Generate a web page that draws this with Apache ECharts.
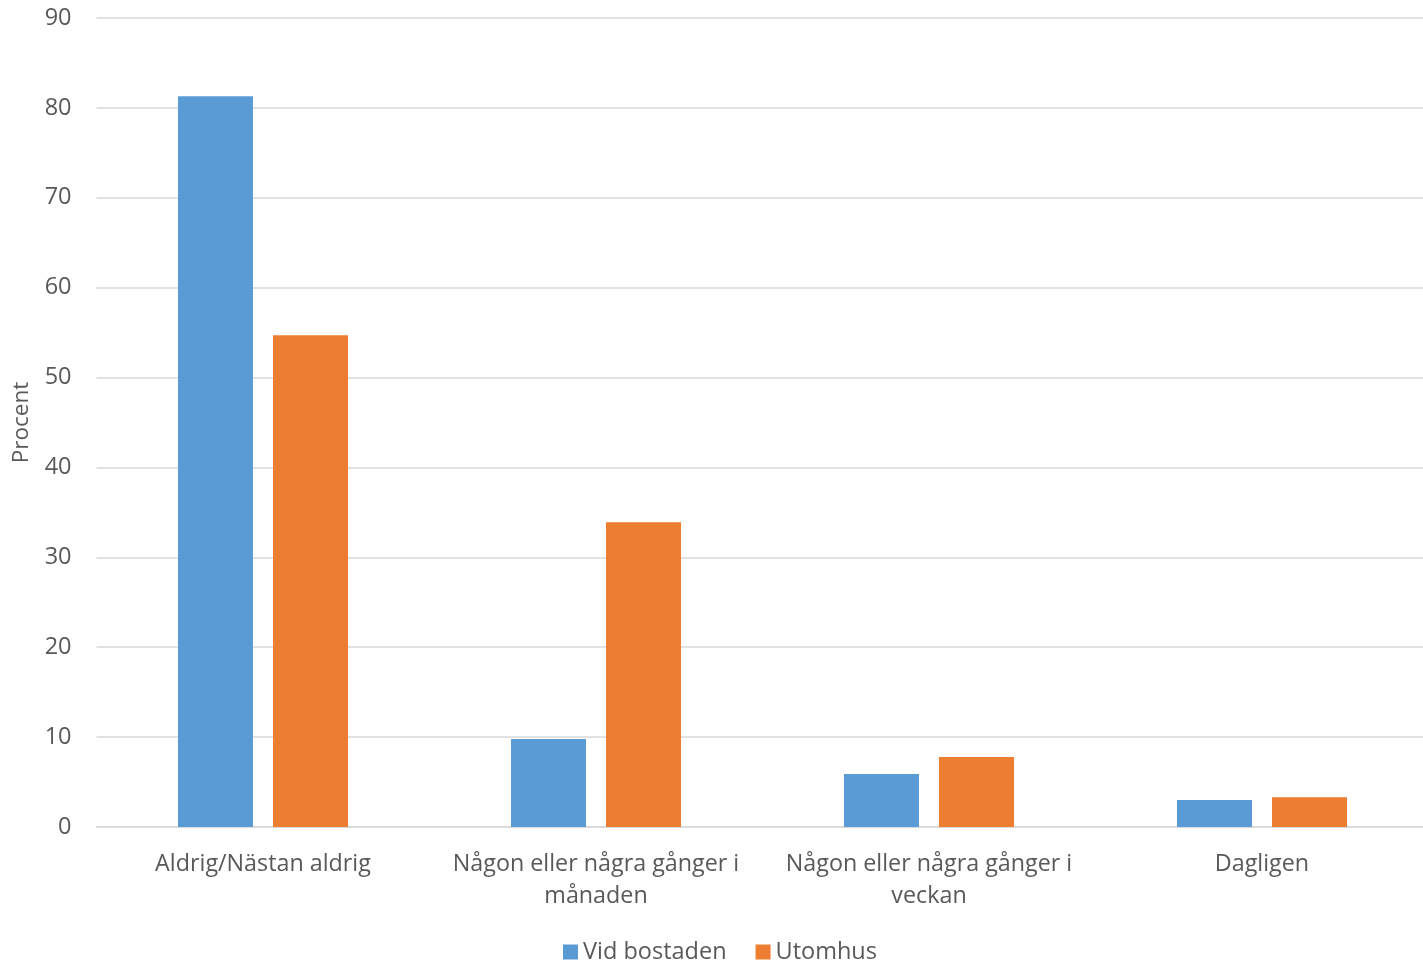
<!DOCTYPE html>
<html><head><meta charset="utf-8">
<script src="https://cdn.jsdelivr.net/npm/echarts@6/dist/echarts.min.js"></script>
<style>html,body{margin:0;padding:0;background:#fff}#c{width:1423px;height:962px}</style>
</head><body><div id="c"></div>
<script>
const categories = ['Aldrig/Nästan aldrig', 'Någon eller några gånger i\nmånaden', 'Någon eller några gånger i\nveckan', 'Dagligen'];
const vidBostaden = [81.3, 9.8, 5.9, 3.0];
const utomhus = [54.7, 33.9, 7.8, 3.3];
const seriesNames = ['Vid bostaden', 'Utomhus'];
const yTicks = {min: 0, max: 90, interval: 10};

const font = '"Open Sans", "Noto Sans", sans-serif';
const chart = echarts.init(document.getElementById('c'));
chart.setOption({
  animation: false,
  textStyle: {fontFamily: font},
  grid: {left: 96.5, width: 1332, top: 18, bottom: 135, containLabel: false, outerBoundsMode: 'none'},
  legend: {
    top: 935, left: 558, itemWidth: 15, itemHeight: 15, itemGap: 29,
    icon: 'rect',
    textStyle: {fontSize: 23.5, color: '#595959', fontFamily: font},
    data: seriesNames
  },
  xAxis: {
    type: 'category', data: categories,
    axisLine: {lineStyle: {color: '#d9d9d9', width: 1.5}},
    axisTick: {show: false},
    axisLabel: {fontSize: 23.3, color: '#595959', margin: 21, lineHeight: 32, interval: 0, fontFamily: font}
  },
  yAxis: {
    type: 'value', min: yTicks.min, max: yTicks.max, interval: yTicks.interval,
    name: 'Procent', nameLocation: 'middle', nameGap: 63, nameRotate: 90,
    nameTextStyle: {fontSize: 22.5, color: '#595959', fontFamily: font},
    axisLine: {show: false}, axisTick: {show: false},
    axisLabel: {fontSize: 23.5, color: '#595959', margin: 25, fontFamily: font},
    splitLine: {lineStyle: {color: '#d9d9d9', width: 1.5}}
  },
  series: [
    {name: seriesNames[0], type: 'bar', data: vidBostaden, barWidth: 75, barGap: '26.7%',
     itemStyle: {color: '#5B9BD5'}},
    {name: seriesNames[1], type: 'bar', data: utomhus, barWidth: 75, barGap: '26.7%',
     itemStyle: {color: '#ED7D31'}}
  ]
});
</script></body></html>
